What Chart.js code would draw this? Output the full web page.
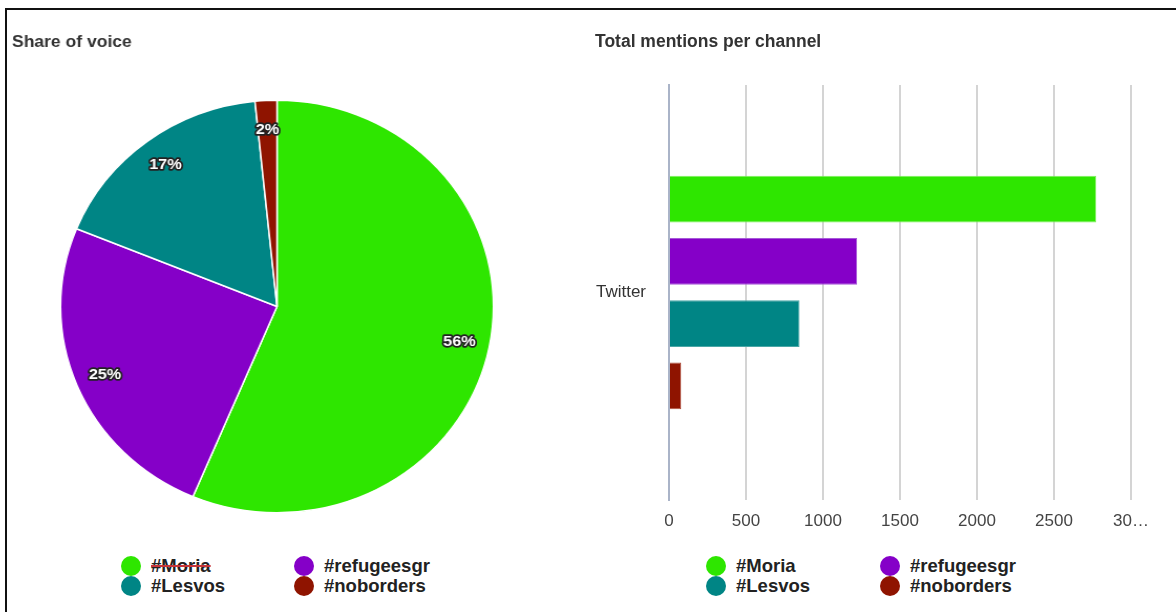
<!DOCTYPE html>
<html>
<head>
<meta charset="utf-8">
<script src="https://cdn.jsdelivr.net/npm/chart.js@4.4.1/dist/chart.umd.min.js"></script>
<style>
  body { margin: 0; background: #fff; width: 1176px; height: 612px; overflow: hidden; position: relative; font-family: "Liberation Sans", Arial, sans-serif; }
  .frame { position: absolute; left: 5px; top: 8px; width: 1300px; height: 700px; border-top: 2px solid #111; border-left: 2px solid #111; }
  canvas { position: absolute; }
  #pieChart { left: 12px; top: 24px; }
  #barChart { left: 560px; top: 24px; }
  .legend-item { position: absolute; height: 20px; line-height: 20px; white-space: nowrap; font-weight: bold; font-size: 18.5px; color: #222; }
  .legend-item .dot { display: inline-block; width: 20px; height: 20px; border-radius: 50%; vertical-align: top; margin-right: 10px; }
  .legend-item .txt { vertical-align: top; }
  .squiggle { text-decoration: line-through; text-decoration-color: #c8353a; text-decoration-thickness: 1.5px; }
</style>
</head>
<body>
<div class="frame"></div>
<!-- pie canvas is stretched a little sideways, like the reference -->
<canvas id="pieChart" width="505" height="500" style="width: 530px; height: 500px;"></canvas>
<canvas id="barChart" width="616" height="530" style="width: 616px; height: 530px;"></canvas>
<div id="pieLegend"></div>
<div id="barLegend"></div>
<script>
// data
const hashtags = ["#Moria", "#refugeesgr", "#Lesvos", "#noborders"];
const channels = ["Twitter"];
const twitterMentions = [2775, 1222, 848, 80];
const tagColors = ["#2ee600", "#8500c8", "#008585", "#8f1400"];
const tagBorders = ["#7ef05a", "#a659d8", "#4aa6a6", "#b0503c"];
const mentionTicks = [0, 500, 1000, 1500, 2000, 2500, 3000];

const FONT = '"Liberation Sans", Arial, sans-serif';

// white percentage labels with dark outline on each slice
const pctLabels = {
  id: "pctLabels",
  afterDatasetsDraw(chart) {
    const { ctx } = chart;
    const values = chart.data.datasets[0].data;
    const total = values.reduce((a, b) => a + b, 0);
    ctx.save();
    ctx.font = "bold 15.5px " + FONT;
    ctx.textAlign = "center";
    ctx.textBaseline = "middle";
    ctx.lineJoin = "round";
    chart.getDatasetMeta(0).data.forEach((arc, i) => {
      const p = arc.getProps(["x", "y", "startAngle", "endAngle", "outerRadius"], true);
      const mid = (p.startAngle + p.endAngle) / 2;
      const r = p.outerRadius * 0.86;
      const x = p.x + Math.cos(mid) * r;
      const y = p.y + Math.sin(mid) * r;
      const text = Math.round((values[i] / total) * 100) + "%";
      ctx.lineWidth = 3.5;
      ctx.strokeStyle = "#222";
      ctx.strokeText(text, x, y);
      ctx.fillStyle = "#fff";
      ctx.fillText(text, x, y);
    });
    ctx.restore();
  },
};

const pieChart = new Chart(document.getElementById("pieChart"), {
  type: "pie",
  data: {
    labels: hashtags,
    datasets: [
      {
        data: twitterMentions,
        backgroundColor: tagColors,
        borderColor: "#fff",
        borderWidth: 1.5,
      },
    ],
  },
  options: {
    responsive: false,
    animation: false,
    layout: { padding: { bottom: 10.5 } },
    plugins: {
      legend: { display: false },
      tooltip: { enabled: false },
      title: {
        display: true,
        text: "Share of voice",
        align: "start",
        color: "#333",
        font: { family: FONT, size: 16.7, weight: "bold" },
        padding: { top: 8, bottom: 47.5 },
      },
    },
  },
  plugins: [pctLabels],
});

const barChart = new Chart(document.getElementById("barChart"), {
  type: "bar",
  data: {
    labels: channels,
    datasets: hashtags.map((tag, i) => ({
      label: tag,
      data: [twitterMentions[i]],
      backgroundColor: tagColors[i],
      borderColor: tagBorders[i],
      borderWidth: 1,
      categoryPercentage: 0.6,
      barPercentage: 0.75,
    })),
  },
  options: {
    indexAxis: "y",
    responsive: false,
    animation: false,
    layout: { padding: { left: 35, right: 45, bottom: 11.6 } },
    plugins: {
      legend: { display: false },
      tooltip: { enabled: false },
      title: {
        display: true,
        text: "Total mentions per channel",
        align: "start",
        color: "#333",
        font: { family: FONT, size: 17.5, weight: "bold" },
        padding: { top: 8, bottom: 32 },
      },
    },
    scales: {
      x: {
        min: mentionTicks[0],
        max: mentionTicks[mentionTicks.length - 1],
        afterBuildTicks: (scale) => {
          scale.ticks = mentionTicks.map((v) => ({ value: v }));
        },
        ticks: {
          color: "#444",
          padding: 11,
          maxRotation: 0,
          font: { family: FONT, size: 17 },
          callback: (v) => (v === 3000 ? "30…" : v),
        },
        grid: {
          drawTicks: false,
          lineWidth: 2,
          color: (c) => (c.tick && c.tick.value === 0 ? "#aab4c8" : "#d4d4d4"),
        },
        border: { display: false },
      },
      y: {
        afterFit: (scale) => {
          scale.width = 74;
        },
        ticks: {
          color: "#333",
          padding: 23,
          font: { family: FONT, size: 17 },
        },
        grid: { display: false, drawTicks: false },
        border: { color: "#aab4c8", width: 2 },
      },
    },
  },
});

// two-column legend under each chart
function buildLegend(el, chart, cols, rowTop, squiggleFirst) {
  const items = chart.options.plugins.legend.labels.generateLabels(chart);
  items.forEach((item, i) => {
    const div = document.createElement("div");
    div.className = "legend-item";
    div.style.left = cols[i % 2] + "px";
    div.style.top = rowTop + Math.floor(i / 2) * 20 + "px";
    const dot = document.createElement("span");
    dot.className = "dot";
    dot.style.background = item.fillStyle;
    const txt = document.createElement("span");
    txt.className = "txt" + (squiggleFirst && i === 0 ? " squiggle" : "");
    txt.textContent = item.text;
    div.appendChild(dot);
    div.appendChild(txt);
    el.appendChild(div);
  });
}

buildLegend(document.getElementById("pieLegend"), pieChart, [121, 294], 556, true);
buildLegend(document.getElementById("barLegend"), barChart, [706, 880], 556, false);
</script>
</body>
</html>
